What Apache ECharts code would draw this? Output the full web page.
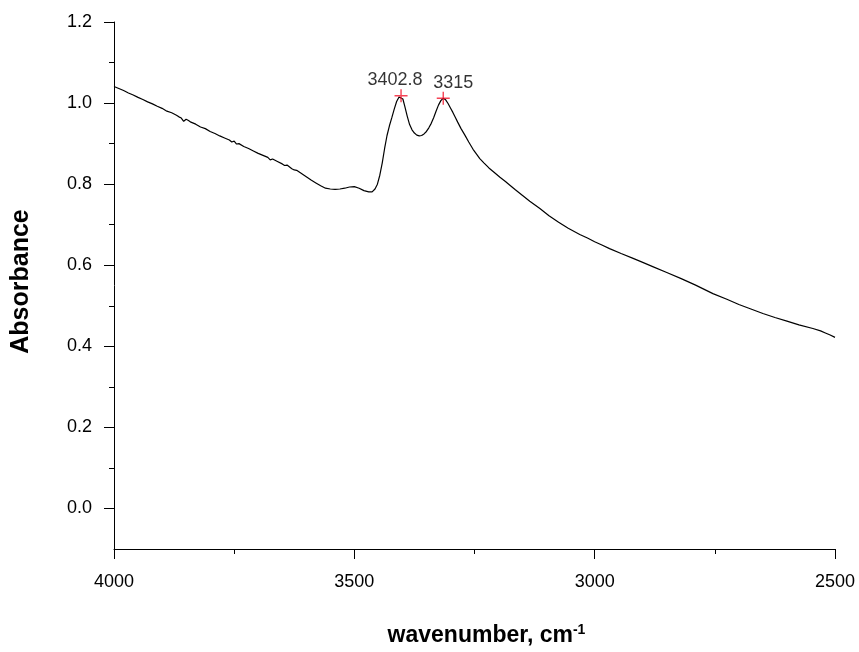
<!DOCTYPE html>
<html>
<head>
<meta charset="utf-8">
<title>IR absorbance spectrum</title>
<script src="https://cdn.jsdelivr.net/npm/echarts@6/dist/echarts.min.js"></script>
<style>
  html, body { margin: 0; padding: 0; background: #ffffff; }
  #chart { width: 859px; height: 652px; }
</style>
</head>
<body>
<div id="chart"></div>
<script>
// Spectrum samples: wavenumber (cm-1) and absorbance
const wavenumber = [
  4000, 3990, 3980, 3970, 3960, 3950, 3940, 3930, 3920, 3910,
  3900, 3890, 3880, 3870, 3865, 3860, 3855, 3850, 3845, 3840,
  3830, 3820, 3810, 3800, 3790, 3780, 3770, 3760, 3755, 3750,
  3745, 3740, 3730, 3720, 3710, 3700, 3690, 3680, 3675, 3670,
  3660, 3650, 3645, 3640, 3630, 3625, 3620, 3610, 3600, 3590,
  3580, 3570, 3560, 3550, 3540, 3530, 3520, 3510, 3500, 3490,
  3480, 3470, 3463, 3457, 3452, 3447, 3442, 3437, 3432, 3427,
  3422, 3417, 3412, 3407, 3403, 3399, 3395, 3390, 3385, 3380,
  3375, 3370, 3365, 3360, 3355, 3350, 3345, 3340, 3335, 3330,
  3325, 3320, 3315, 3310, 3305, 3300, 3295, 3290, 3285, 3278,
  3270, 3262, 3253, 3245, 3239, 3230, 3220, 3210, 3197, 3185,
  3177, 3165, 3150, 3135, 3114, 3095, 3075, 3055, 3031, 3015,
  3000, 2985, 2969, 2945, 2920, 2900, 2878, 2850, 2820, 2790,
  2754, 2725, 2700, 2675, 2650, 2625, 2600, 2575, 2546, 2530,
  2520, 2510, 2500
];
const absorbance = [
  1.041, 1.036, 1.031, 1.025, 1.020, 1.014, 1.009, 1.003, 0.998, 0.992,
  0.987, 0.980, 0.976, 0.970, 0.966, 0.963, 0.955, 0.960, 0.957, 0.953,
  0.948, 0.941, 0.937, 0.930, 0.925, 0.919, 0.914, 0.909, 0.904, 0.906,
  0.899, 0.900, 0.893, 0.888, 0.882, 0.876, 0.871, 0.866, 0.860, 0.862,
  0.856, 0.850, 0.846, 0.847, 0.838, 0.835, 0.834, 0.826, 0.818, 0.810,
  0.803, 0.796, 0.790, 0.788, 0.787, 0.788, 0.790, 0.793, 0.794, 0.790,
  0.784, 0.781, 0.781, 0.788, 0.800, 0.822, 0.852, 0.888, 0.920, 0.944,
  0.964, 0.985, 1.004, 1.015, 1.018, 1.010, 0.992, 0.968, 0.947, 0.934,
  0.926, 0.921, 0.919, 0.920, 0.924, 0.930, 0.939, 0.950, 0.964, 0.980,
  0.995, 1.006, 1.012, 1.008, 0.999, 0.988, 0.977, 0.965, 0.953, 0.937,
  0.921, 0.904, 0.886, 0.873, 0.863, 0.852, 0.840, 0.830, 0.817, 0.806,
  0.798, 0.786, 0.772, 0.758, 0.740, 0.722, 0.706, 0.691, 0.676, 0.667,
  0.658, 0.650, 0.641, 0.629, 0.617, 0.607, 0.596, 0.582, 0.567, 0.551,
  0.530, 0.516, 0.503, 0.492, 0.481, 0.471, 0.462, 0.453, 0.444, 0.438,
  0.433, 0.428, 0.422
];

// Picked peaks
const peakWavenumber = [3402.8, 3315];
const peakAbsorbance = [1.018, 1.012];

// Axis ticks
const xRange = [2500, 4000];
const yRange = [-0.1, 1.2];
const yMajorTicks = [0.0, 0.2, 0.4, 0.6, 0.8, 1.0, 1.2];
const yMinorTicks = [0.1, 0.3, 0.5, 0.7, 0.9, 1.1];

const FONT = '"Liberation Sans", Arial, Helvetica, sans-serif';

const spectrum = wavenumber.map((w, i) => [w, absorbance[i]]);
const peaks = peakWavenumber.map((w, i) => [w, peakAbsorbance[i]]);
const peakLabelShift = [[-6, 3], [10, 3]];

const chart = echarts.init(document.getElementById('chart'), null, { renderer: 'canvas' });

chart.setOption({
  animation: false,
  backgroundColor: '#ffffff',
  grid: { left: 114, right: 24, top: 22, bottom: 103, containLabel: false },
  xAxis: {
    type: 'value',
    inverse: true,
    min: xRange[0],
    max: xRange[1],
    interval: 500,
    name: 'wavenumber, cm{sup|-1}',
    nameLocation: 'middle',
    nameGap: 74,
    nameTextStyle: {
      fontFamily: FONT, fontSize: 23, fontWeight: 'bold', color: '#000',
      padding: [0, 0, 0, 24],
      rich: {
        sup: { fontFamily: FONT, fontSize: 14, fontWeight: 'bold', color: '#000', verticalAlign: 'top', padding: [0, 0, 11, 0] }
      }
    },
    axisLine: { show: true, onZero: false, lineStyle: { color: '#000', width: 1 } },
    axisTick: { show: true, inside: false, length: 10, lineStyle: { color: '#000', width: 1 } },
    minorTick: { show: true, splitNumber: 2, length: 5, lineStyle: { color: '#000', width: 1 } },
    axisLabel: { fontFamily: FONT, fontSize: 18, color: '#000', margin: 24, formatter: v => String(v) },
    splitLine: { show: false },
    minorSplitLine: { show: false }
  },
  yAxis: [
    {
      type: 'value',
      min: yRange[0],
      max: yRange[1],
      name: 'Absorbance',
      nameLocation: 'middle',
      nameGap: 80,
      nameRotate: 90,
      nameTextStyle: { fontFamily: FONT, fontSize: 25, fontWeight: 'bold', color: '#000', padding: [0, 0, 0, 8] },
      axisLine: { show: true, onZero: false, lineStyle: { color: '#000', width: 1 } },
      axisTick: { show: true, inside: false, length: 10, customValues: yMajorTicks, lineStyle: { color: '#000', width: 1 } },
      axisLabel: {
        fontFamily: FONT, fontSize: 18, color: '#000', margin: 22,
        customValues: yMajorTicks,
        formatter: v => v.toFixed(1)
      },
      splitLine: { show: false }
    },
    {
      type: 'value',
      position: 'left',
      min: yRange[0],
      max: yRange[1],
      axisLine: { show: false },
      axisTick: { show: true, inside: false, length: 5, customValues: yMinorTicks, lineStyle: { color: '#000', width: 1 } },
      axisLabel: { show: false },
      splitLine: { show: false }
    }
  ],
  series: [
    {
      type: 'line',
      data: spectrum,
      xAxisIndex: 0,
      yAxisIndex: 0,
      showSymbol: false,
      smooth: false,
      lineStyle: { color: '#000', width: 1.2 },
      silent: true
    },
    {
      type: 'scatter',
      data: peaks.map((p, i) => ({
        value: p,
        label: { offset: peakLabelShift[i] }
      })),
      xAxisIndex: 0,
      yAxisIndex: 0,
      symbol: 'path://M0,4.45H10V5.55H0Z M4.45,0H5.55V10H4.45Z',
      symbolSize: 13,
      itemStyle: { color: '#f2142a' },
      label: {
        show: true,
        position: 'top',
        distance: 3,
        fontFamily: FONT,
        fontSize: 18,
        color: '#000',
        formatter: p => String(p.value[0])
      },
      silent: true,
      z: 5
    }
  ]
});
</script>
</body>
</html>
